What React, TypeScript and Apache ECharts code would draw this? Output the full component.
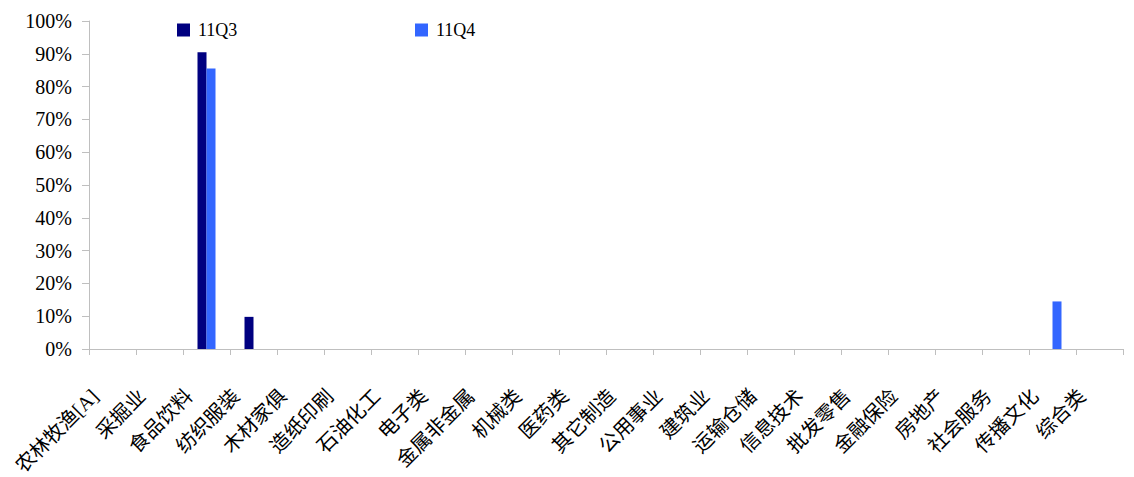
import React, { useEffect, useRef } from "react";
import * as echarts from "echarts";

const categories = [
  "农林牧渔[A]", "采掘业", "食品饮料", "纺织服装", "木材家俱", "造纸印刷", "石油化工", "电子类",
  "金属非金属", "机械类", "医药类", "其它制造", "公用事业", "建筑业", "运输仓储", "信息技术",
  "批发零售", "金融保险", "房地产", "社会服务", "传播文化", "综合类",
];
const q3Values = [0, 0, 0.905, 0.098, 0, 0, 0, 0, 0, 0, 0, 0, 0, 0, 0, 0, 0, 0, 0, 0, 0, 0];
const q4Values = [0, 0, 0.855, 0, 0, 0, 0, 0, 0, 0, 0, 0, 0, 0, 0, 0, 0, 0, 0, 0, 0.145, 0];
const seriesNames = ["11Q3", "11Q4"];
const seriesColors = ["#000080", "#3366FF"];

const serif = "'Liberation Serif', 'Noto Sans CJK SC', serif";

export default function App() {
  const ref = useRef<HTMLDivElement>(null);
  useEffect(() => {
    if (!ref.current) return;
    const chart = echarts.init(ref.current, undefined, { renderer: "svg" });
    const legendBase = {
      top: 16,
      itemWidth: 13,
      itemHeight: 13,
      icon: "rect",
      itemGap: 0,
      textStyle: { fontFamily: serif, fontSize: 18, color: "#000", padding: [0, 0, 0, 3] },
    };
    chart.setOption({
      animation: false,
      backgroundColor: "#ffffff",
      grid: { left: 89, right: 11, top: 21, bottom: 128, containLabel: false, outerBoundsMode: "none" },
      legend: [
        { ...legendBase, data: [seriesNames[0]], left: 172 },
        { ...legendBase, data: [seriesNames[1]], left: 410 },
      ],
      xAxis: {
        type: "category",
        data: categories,
        boundaryGap: true,
        axisLine: { lineStyle: { color: "#bfbfbf", width: 1 } },
        axisTick: { show: true, alignWithLabel: false, length: 6, lineStyle: { color: "#bfbfbf" } },
        axisLabel: {
          rotate: 45,
          interval: 0,
          margin: 26,
          padding: [0, 25, 0, 0],
          fontFamily: serif,
          fontSize: 20,
          color: "#000",
        },
        splitLine: { show: false },
      },
      yAxis: {
        type: "value",
        min: 0,
        max: 1,
        interval: 0.1,
        axisLine: { show: true, lineStyle: { color: "#bfbfbf", width: 1 } },
        axisTick: { show: true, length: 7, inside: false, lineStyle: { color: "#bfbfbf" } },
        splitLine: { show: false },
        axisLabel: {
          margin: 17,
          fontFamily: serif,
          fontSize: 20,
          color: "#000",
          formatter: (v: number) => Math.round(v * 100) + "%",
        },
      },
      series: [
        {
          name: seriesNames[0],
          type: "bar",
          data: q3Values,
          barWidth: 9,
          barGap: "0%",
          itemStyle: { color: seriesColors[0] },
        },
        {
          name: seriesNames[1],
          type: "bar",
          data: q4Values,
          barWidth: 9,
          barGap: "0%",
          itemStyle: { color: seriesColors[1] },
        },
      ],
    });
    return () => chart.dispose();
  }, []);
  return (
    <div
      ref={ref}
      style={{ position: "absolute", left: 0, top: 0, width: 1134, height: 477 }}
    />
  );
}
